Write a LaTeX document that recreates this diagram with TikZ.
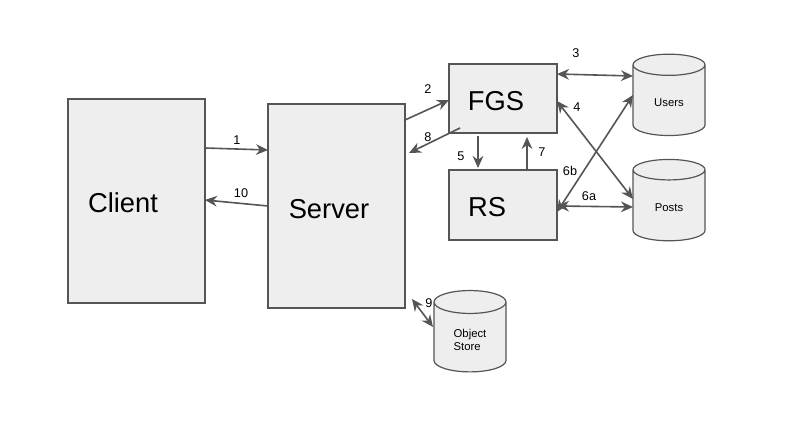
\documentclass[tikz,border=0pt]{standalone}
\usepackage{fontspec}
\setmainfont{Liberation Sans}
\usetikzlibrary{shapes.geometric, arrows.meta}
\definecolor{edge}{HTML}{555555}
\definecolor{boxfill}{HTML}{EEEEEE}
\tikzset{
  box/.style={draw=edge, fill=boxfill, line width=1.1pt},
  db/.style={cylinder, shape border rotate=90, aspect=0.55, draw=edge, fill=boxfill,
    line width=0.9pt, minimum width=54pt, minimum height=61pt, font=\fontsize{8.5}{10}\selectfont, align=left},
  link/.style={draw=edge, line width=1.2pt, -{Stealth[length=9pt, width=8pt]}},
  twoway/.style={link, {Stealth[length=9pt, width=8pt]}-{Stealth[length=9pt, width=8pt]}},
  num/.style={font=\fontsize{9.5}{11}\selectfont, inner sep=1pt}
}
\begin{document}
\begin{tikzpicture}[x=0.75pt, y=-0.75pt]
  \useasboundingbox (0,0) rectangle (805,434);

  % boxes
  \draw[box] (68,99) rectangle (205,303);
  \draw[box] (268,104) rectangle (405,308);
  \draw[box] (449,64) rectangle (557,133);
  \draw[box] (449,170) rectangle (557,240);
  \node[font=\fontsize{20.5}{24}\selectfont] (client) at (123,203) {Client};
  \node[font=\fontsize{20.5}{24}\selectfont] (server) at (329,209) {Server};
  \node[font=\fontsize{20.5}{24}\selectfont] (fgs) at (496,101) {FGS};
  \node[font=\fontsize{20.5}{24}\selectfont] (rs) at (487,207) {RS};

  % stores
  \node[db] (users) at (669,103) {Users};
  \node[db] (posts) at (669,208) {Posts};
  \node[db] (store) at (470,340) {Object\\Store};

  % end points
  \coordinate (c1) at (205,148); \coordinate (s1) at (268,150);
  \coordinate (s10) at (268,206); \coordinate (c10) at (205,200);
  \coordinate (s2) at (405,120); \coordinate (f2) at (449,100);
  \coordinate (f8) at (460,128); \coordinate (s8) at (409,153);
  \coordinate (f5) at (478,136); \coordinate (r5) at (478,168);
  \coordinate (r7) at (527,170); \coordinate (f7) at (527,137);
  \coordinate (f3) at (557,74); \coordinate (u3) at (633,76);
  \coordinate (f4) at (557,101); \coordinate (p4) at (633,199);
  \coordinate (r6b) at (557,212); \coordinate (u6b) at (633,95);
  \coordinate (r6a) at (557,206); \coordinate (p6a) at (633,207);
  \coordinate (s9) at (412,299); \coordinate (o9) at (433,327);

  % connectors
  \draw[link] (c1) -- (s1);
  \draw[link] (s10) -- (c10);
  \draw[link] (s2) -- (f2);
  \draw[link] (f8) -- (s8);
  \draw[link] (f5) -- (r5);
  \draw[link] (r7) -- (f7);
  \draw[twoway] (f3) -- (u3);
  \draw[twoway] (f4) -- (p4);
  \draw[twoway] (r6b) -- (u6b);
  \draw[twoway] (r6a) -- (p6a);
  \draw[twoway] (s9) -- (o9);

  % step numbers
  \node[num] at (237,140) {1};
  \node[num] at (241,193) {10};
  \node[num] at (428,89) {2};
  \node[num] at (428,137) {8};
  \node[num] at (461,156) {5};
  \node[num] at (542,152) {7};
  \node[num] at (576,53) {3};
  \node[num] at (577,107) {4};
  \node[num] at (570,171) {6b};
  \node[num] at (589,196) {6a};
  \node[num] at (429,303) {9};
\end{tikzpicture}
\end{document}
